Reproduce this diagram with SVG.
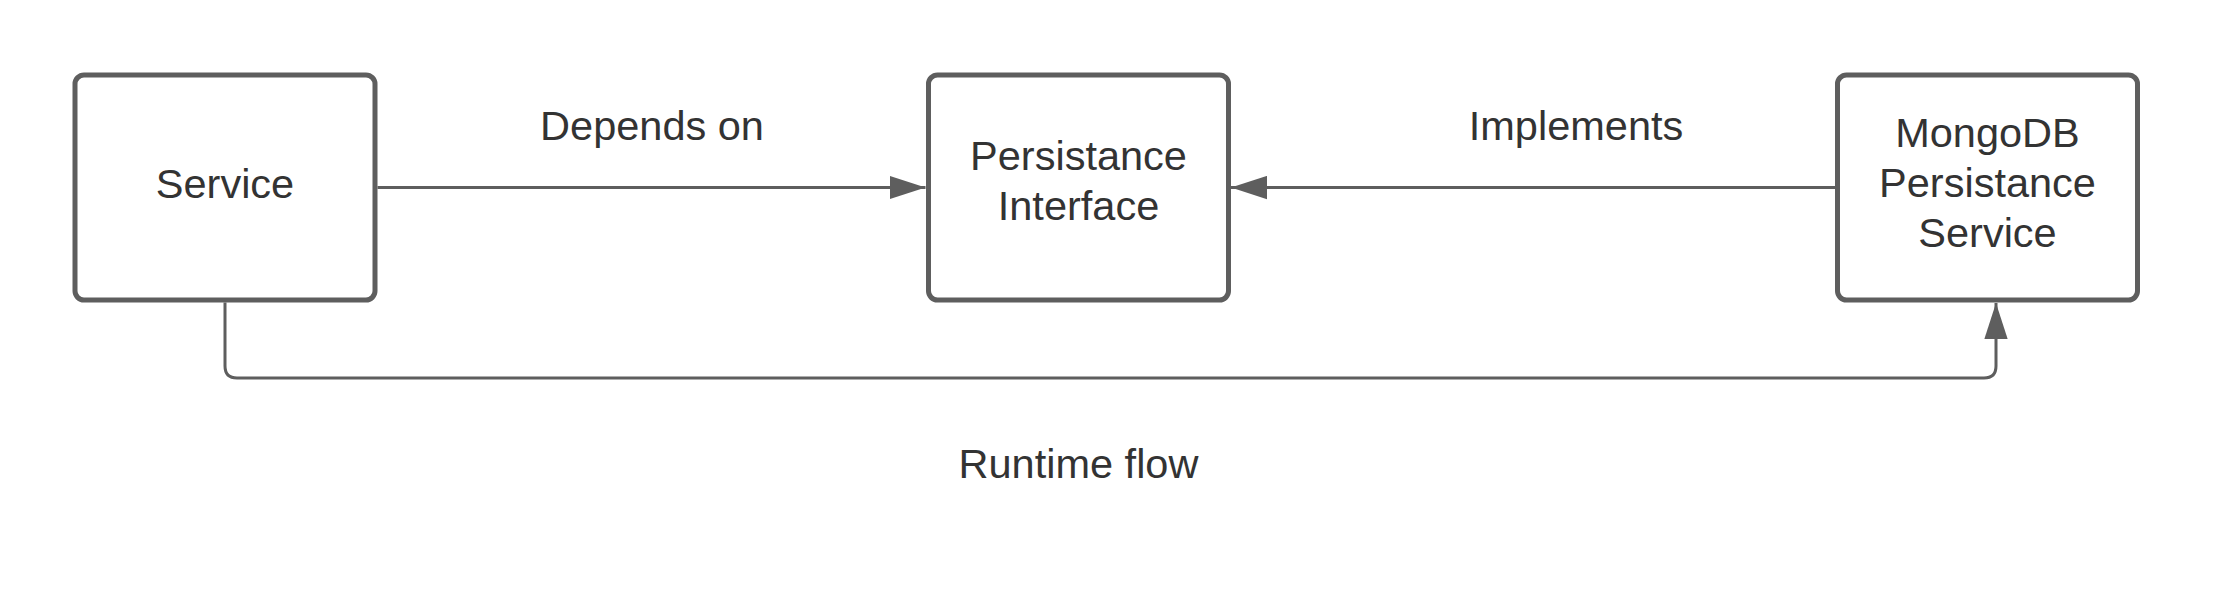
<svg xmlns="http://www.w3.org/2000/svg" width="2213" height="600" viewBox="0 0 2213 600">
  <defs>
    <style>
      .box { fill: #ffffff; stroke: #5e5e5e; stroke-width: 5; }
      .conn { fill: none; stroke: #5e5e5e; stroke-width: 3; }
      .lbl { font-family: "Liberation Sans", Arial, sans-serif; font-size: 41.5px; fill: #333333; text-anchor: middle; }
    </style>
    <marker id="arrow" markerUnits="userSpaceOnUse" markerWidth="36" markerHeight="24" viewBox="0 0 34 22" refX="34" refY="11" orient="auto">
      <path d="M0,0 L34,11 L0,22 Z" fill="#5e5e5e"/>
    </marker>
  </defs>
  <rect width="2213" height="600" fill="#ffffff"/>

  <g id="connectors">
    <line class="conn" x1="377.5" y1="187.5" x2="925.5" y2="187.5" marker-end="url(#arrow)"/>
    <line class="conn" x1="1835" y1="187.5" x2="1231" y2="187.5" marker-end="url(#arrow)"/>
    <path class="conn" d="M225,302.5 L225,366 Q225,378 237,378 L1984,378 Q1996,378 1996,366 L1996,303" marker-end="url(#arrow)"/>
    <text class="lbl" x="652" y="139.5">Depends on</text>
    <text class="lbl" x="1576" y="139.5">Implements</text>
    <text class="lbl" x="1078.5" y="477.5">Runtime flow</text>
  </g>

  <g id="service">
    <rect class="box" x="75" y="75" width="300" height="225" rx="9" ry="9"/>
    <text class="lbl" x="225" y="198">Service</text>
  </g>

  <g id="persistance-interface">
    <rect class="box" x="928.5" y="75" width="300" height="225" rx="9" ry="9"/>
    <text class="lbl" x="1078.5" y="170">Persistance</text>
    <text class="lbl" x="1078.5" y="220">Interface</text>
  </g>

  <g id="mongodb-persistance-service">
    <rect class="box" x="1837.5" y="75" width="300" height="225" rx="9" ry="9"/>
    <text class="lbl" x="1987.5" y="147">MongoDB</text>
    <text class="lbl" x="1987.5" y="197">Persistance</text>
    <text class="lbl" x="1987.5" y="247">Service</text>
  </g>
</svg>
